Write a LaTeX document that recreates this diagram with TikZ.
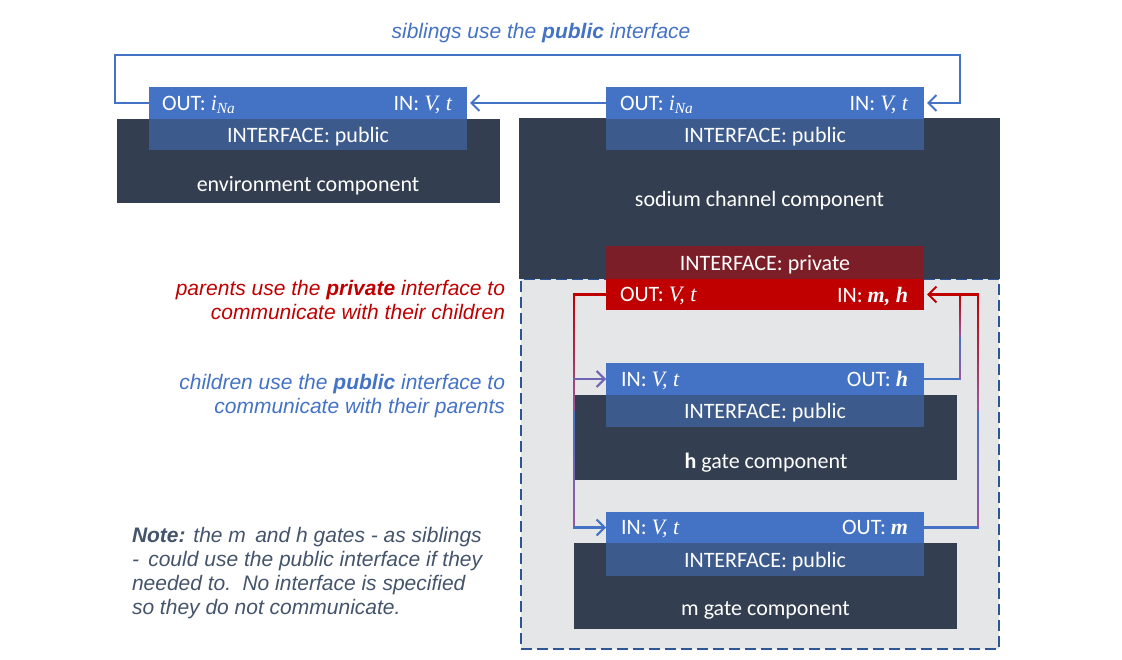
\documentclass[tikz,border=0pt]{standalone}
\usepackage{fontspec}
\setmainfont{Carlito}
\newfontfamily\notefont{Liberation Sans}
\newfontfamily\varfont{Liberation Serif}
\usetikzlibrary{arrows.meta,calc}

\definecolor{barblue}{HTML}{4472C4}
\definecolor{ifblue}{HTML}{3C5A8C}
\definecolor{boxdark}{HTML}{333F50}
\definecolor{privdark}{HTML}{7B1E28}
\definecolor{privred}{HTML}{C00000}
\definecolor{gradmid}{HTML}{9A55A0}
\definecolor{regiongray}{HTML}{E5E6E8}
\definecolor{dashblue}{HTML}{2F5597}
\definecolor{notegray}{HTML}{44546A}

\newcommand{\boxfont}{\fontsize{22}{26}\selectfont}
\newcommand{\vv}[1]{{\varfont\itshape #1}}
\newcommand{\vb}[1]{{\varfont\itshape\bfseries #1}}
% wire whose colour runs from privred (first end) over gradmid to barblue (second end)
\newcommand{\gradwire}[2]{%
  \foreach \k in {1,...,30}{%
    \pgfmathsetmacro{\fa}{(\k-1)/30}%
    \pgfmathsetmacro{\fb}{\k/30}%
    \pgfmathtruncatemacro{\pct}{abs(100-200*(\k-0.5)/30)}%
    \ifnum\k>15
      \draw[wire, line cap=butt, draw=gradmid!\pct!barblue] ($(#1)!\fa!(#2)$) -- ($(#1)!\fb!(#2)$);
    \else
      \draw[wire, line cap=butt, draw=privred!\pct!gradmid] ($(#1)!\fa!(#2)$) -- ($(#1)!\fb!(#2)$);
    \fi
  }}

\begin{document}
\begin{tikzpicture}[x=1pt, y=-1pt,
    every node/.style={inner sep=0pt, outer sep=0pt},
    dark/.style={fill=boxdark},
    bar/.style={minimum width=318pt, minimum height=32pt},
    pubbar/.style={bar, fill=barblue},
    ifbar/.style={bar, fill=ifblue, text=white, font=\boxfont, text depth=0pt},
    lbl/.style={text=white, font=\boxfont, text depth=0pt},
    wire/.style={line width=2.1pt, line cap=rect},
    tip/.style={-{Straight Barb[length=8pt, width=16pt]}},
    note/.style={font=\notefont\itshape\fontsize{21}{24}\selectfont, align=right}]
    %\draw[lightgray] (0, 0) grid[step=50] (1122, 660);
    \useasboundingbox (0, 0) rectangle (1122, 660);

    % environment component
    \node[dark, minimum width=383pt, minimum height=84pt] (envbox) at (308.5, 161) {};
    \node[pubbar] (envpub) at (308, 103) {};
    \node[ifbar, minimum height=31pt] (envif) at (308, 134.5) {INTERFACE: public};
    \node[lbl] (envname) at (308, 184) {environment component};
    \node[lbl, anchor=west] (envout) at ([xshift=13pt]envpub.west) {OUT: \vv{i}\textsubscript{\vv{Na}}};
    \node[lbl, anchor=east] (envin) at ([xshift=-15pt]envpub.east) {IN: \vv{V, t}};

    % sodium channel component
    \node[fill=regiongray, draw=dashblue, line width=2pt, dash pattern=on 11pt off 5pt,
          minimum width=478pt, minimum height=370pt] (nainner) at (759.5, 464) {};
    \node[dark, minimum width=481pt, minimum height=161pt] (nabox) at (759.5, 198.5) {};
    \node[pubbar] (napub) at (765, 103) {};
    \node[ifbar, minimum height=31pt] (naif) at (765, 134.5) {INTERFACE: public};
    \node[lbl] (naname) at (759.5, 199) {sodium channel component};
    \node[lbl, anchor=west] (naout) at ([xshift=14pt]napub.west) {OUT: \vv{i}\textsubscript{\vv{Na}}};
    \node[lbl, anchor=east] (nain) at ([xshift=-16pt]napub.east) {IN: \vv{V, t}};
    \node[ifbar, fill=privdark, minimum height=33pt] (napriv) at (765, 262.5) {INTERFACE: private};
    \node[bar, fill=privred, minimum height=31pt] (naprivbar) at (765, 294.5) {};
    \node[lbl, anchor=west] (naprivout) at ([xshift=14pt]naprivbar.west) {OUT: \vv{V, t}};
    \node[lbl, anchor=east] (naprivin) at ([xshift=-16pt]naprivbar.east) {IN: \vb{m, h}};

    % h gate component
    \node[dark, minimum width=382pt, minimum height=85pt] (hbox) at (766, 437.5) {};
    \node[pubbar] (hpub) at (765, 379) {};
    \node[ifbar] (hif) at (765, 411) {INTERFACE: public};
    \node[lbl] (hname) at (766, 461) {\textbf{h} gate component};
    \node[lbl, anchor=west] (hin) at ([xshift=15pt]hpub.west) {IN: \vv{V, t}};
    \node[lbl, anchor=east] (hout) at ([xshift=-16pt]hpub.east) {OUT: \vb{h}};

    % m gate component
    \node[dark, minimum width=383pt, minimum height=86pt] (mbox) at (765.5, 586) {};
    \node[pubbar, minimum height=31pt] (mpub) at (765, 527.5) {};
    \node[ifbar, minimum height=33pt] (mif) at (765, 559.5) {INTERFACE: public};
    \node[lbl] (mname) at (765.5, 609) {m gate component};
    \node[lbl, anchor=west] (min) at ([xshift=15pt]mpub.west) {IN: \vv{V, t}};
    \node[lbl, anchor=east] (mout) at ([xshift=-16pt]mpub.east) {OUT: \vb{m}};

    % siblings
    \coordinate (sl) at ($(envpub.west)+(-34, 0)$);
    \coordinate (sr) at ($(napub.east)+(36, 0)$);
    \draw[wire, draw=barblue, tip, shorten >=3pt] (envpub.west) -- (sl) -- ++(0, -48) -| (sr) -- (napub.east);
    \draw[wire, draw=barblue, tip, shorten >=3pt] (napub.west) -- (envpub.east);

    % parent to children
    \coordinate (pl) at ($(naprivbar.west)+(-32, 0)$);
    \coordinate (hl) at (pl |- hpub.west);
    \coordinate (ml) at (pl |- mpub.west);
    \draw[wire, draw=privred] (naprivbar.west) -- (pl);
    \gradwire{pl}{ml}
    \draw[wire, draw=gradmid!45!barblue, tip] (hl) -- (hpub.west);
    \draw[wire, draw=barblue, tip] (ml) -- (mpub.west);

    % children to parent
    \coordinate (hr) at ($(hpub.east)+(36, 0)$);
    \coordinate (pr) at (hr |- naprivbar.east);
    \coordinate (mr) at ($(mpub.east)+(54, 0)$);
    \coordinate (pr2) at (mr |- naprivbar.east);
    \draw[wire, draw=barblue] (hpub.east) -- (hr);
    \gradwire{pr}{hr}
    \draw[wire, draw=barblue] (mpub.east) -- (mr);
    \gradwire{pr2}{mr}
    \draw[wire, draw=privred, tip, shorten >=3pt] (pr2) -- (naprivbar.east);

    % notes
    \node[note, text=barblue] (sibnote) at (541, 33) {siblings use the \textbf{public} interface};
    \node[note, text=privred, anchor=east] (parnote) at (505, 300) {parents use the \textbf{private} interface to\\communicate with their children};
    \node[note, text=barblue, anchor=east] (chinote) at (505, 396) {children use the \textbf{public} interface to\\communicate with their parents};
    \node[note, text=notegray, align=left, anchor=west] (mhnote) at (132, 573) {\textbf{Note:} the m\, and h gates - as siblings\\-\, could use the public interface if they\\needed to.\, No interface is specified\\so they do not communicate.};
\end{tikzpicture}
\end{document}
